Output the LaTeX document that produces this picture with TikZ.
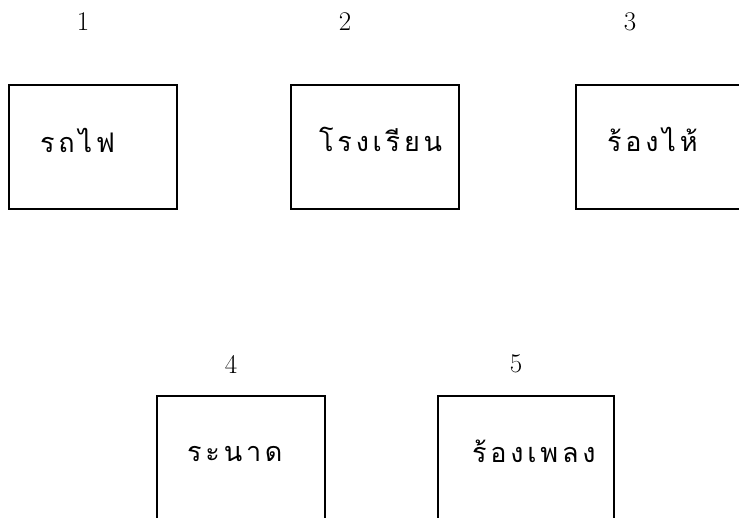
\documentclass[tikz,border=0pt]{standalone}
\usepackage{fontspec}
\newfontfamily\thaifont[Script=Thai,LetterSpace=14]{Loma}
\begin{document}
\begin{tikzpicture}[x=1pt,y=-1pt,
  box/.style={draw,line width=1.7pt,minimum width=168pt,minimum height=124pt,inner sep=0pt,anchor=north west},
  word/.style={font=\thaifont\fontsize{27}{30}\selectfont,anchor=base west,inner sep=0pt},
  num/.style={font=\fontsize{27}{30}\selectfont,inner sep=0pt}]
\useasboundingbox (0,0) rectangle (739,517);
\node[box] (b1) at (8,84) {};
\node[box] (b2) at (290,84) {};
\node[box,minimum width=180pt] (b3) at (575,84) {};
\node[box] (b4) at (156,395) {};
\node[box,minimum width=176pt] (b5) at (437,395) {};
\node[word] (t1) at (40,152) {รถไฟ};
\node[word] (t2) at (319,151) {โรงเรียน};
\node[word] (t3) at (607,151) {ร้องไห้};
\node[word] (t4) at (187,461) {ระนาด};
\node[word] (t5) at (472,462) {ร้องเพลง};
\node[num] (n1) at (83,22) {1};
\node[num] (n2) at (345,22) {2};
\node[num] (n3) at (630,22) {3};
\node[num] (n4) at (231,364) {4};
\node[num] (n5) at (516,364) {5};
\end{tikzpicture}
\end{document}
